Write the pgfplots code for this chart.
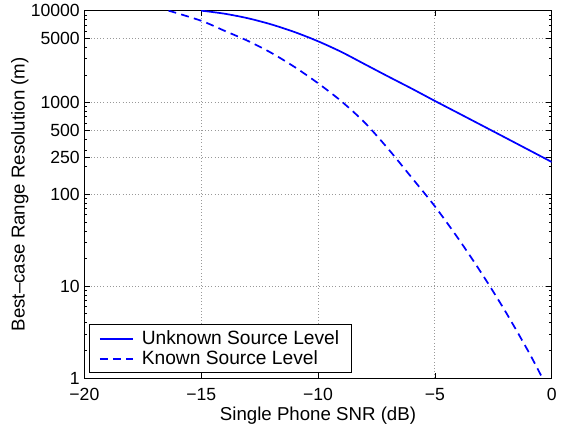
\documentclass[border=0pt]{standalone}
\usepackage{fontspec}
\setmainfont{Liberation Sans}
\usepackage{pgfplots}
\pgfplotsset{compat=1.18}
\definecolor{mblue}{RGB}{0,0,255}

\begin{document}
\begin{tikzpicture}
\begin{semilogyaxis}[
  width=353pt, height=277.5pt,
  scale only axis,
  xmin=-20, xmax=0,
  ymin=1, ymax=10000,
  xtick={-20,-15,-10,-5,0},
  xticklabels={−20,−15,−10,−5,0},
  ytick={1,10,100,250,500,1000,5000,10000},
  yticklabels={1,10,100,250,500,1000,5000,10000},
  minor ytick={2,3,4,5,6,7,8,9,20,30,40,50,60,70,80,90,200,300,400,600,700,800,900,2000,3000,4000,6000,7000,8000,9000},
  tick align=inside,
  major tick length=4pt,
  minor tick length=2.2pt,
  tick style={black, line width=0.5pt},
  axis line style={black, line width=0.7pt},
  grid=major,
  major grid style={dotted, gray!80, line width=0.6pt},
  ticklabel style={font=\fontsize{13.3}{15}\selectfont},
  xticklabel style={yshift=-4.5pt},
  label style={font=\fontsize{14.1}{16}\selectfont},
  /pgf/number format/assume math mode=true,
  xlabel={Single Phone SNR (dB)},
  ylabel={Best–case Range Resolution (m)},
  xlabel style={at={(axis description cs:0.5,-0.102)}, anchor=center},
  ylabel style={at={(axis description cs:-0.138,0.5)}, anchor=center},
  legend style={at={(0.0106,0.0135)}, anchor=south west, draw=black,
    line width=0.7pt, font=\fontsize{14.5}{17}\selectfont,
    inner xsep=7pt, inner ysep=2.5pt, row sep=-1pt,
    /tikz/every odd column/.append style={column sep=4pt}},
  legend cell align=left,
  legend image code/.code={\draw[#1] (0pt,0pt) -- (25pt,0pt);},
]
\addplot[mblue, line width=1.3pt, smooth] coordinates {
  (-15,10000)(-14,9260)(-13,8260)(-12,7080)(-11,5840)(-10,4640)
  (-9,3550)(-8,2610)(-7,1920)(-6,1420)(-5,1040)(-4,767)(-3,565)
  (-2,416)(-1,306)(0,225)
};
\addplot[mblue, line width=1.3pt, smooth, dash pattern=on 6pt off 4pt] coordinates {
  (-16.4,10000)(-15,7760)(-14,6030)(-13,4680)(-12,3470)(-11,2430)
  (-10,1620)(-9,1030)(-8,603)(-7,313)(-6,153)(-5,74)(-4,33)
  (-3,13.8)(-2,5.4)(-1,1.95)(-0.4,1)
};
\legend{Unknown Source Level, Known Source Level}
\end{semilogyaxis}
\path (-63.75pt,-36.75pt) rectangle (357pt,283.5pt);
\end{tikzpicture}
\end{document}
